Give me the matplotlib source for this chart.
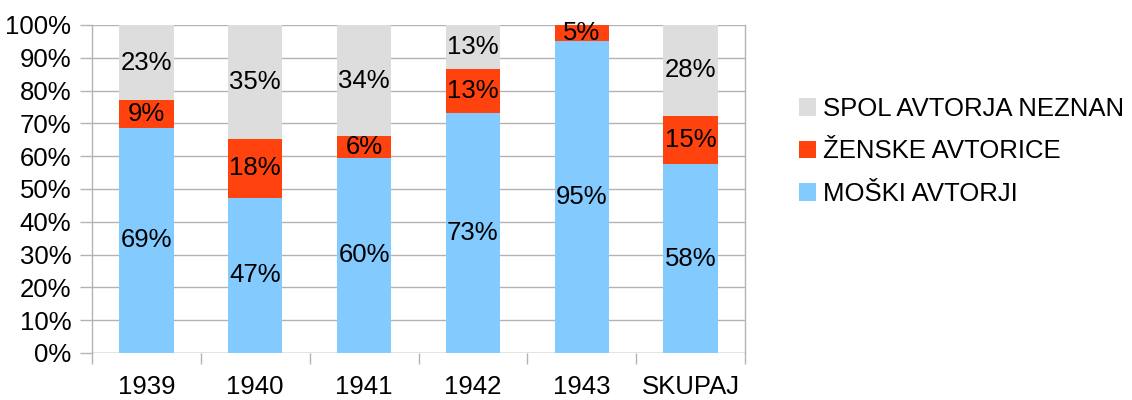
import matplotlib.pyplot as plt
import numpy as np

categories = ["1939", "1940", "1941", "1942", "1943", "SKUPAJ"]
moski = [68.6, 47.3, 59.5, 73.2, 95.1, 57.6]
zenske = [8.5, 17.9, 6.6, 13.4, 4.9, 14.7]
neznan = [22.9, 34.8, 33.9, 13.4, 0.0, 27.7]
moski_lbl = ["69%", "47%", "60%", "73%", "95%", "58%"]
zenske_lbl = ["9%", "18%", "6%", "13%", "5%", "15%"]
neznan_lbl = ["23%", "35%", "34%", "13%", "", "28%"]

plt.rcParams["font.family"] = ["Liberation Sans", "DejaVu Sans"]
FS = 18.5

fig = plt.figure(figsize=(11.32, 4.0), dpi=100)
ax = fig.add_axes([92 / 1132, 1 - 353 / 400, (745 - 92) / 1132, (353 - 25) / 400])

x = np.arange(len(categories))
w = 0.5
b1 = ax.bar(x, moski, w, color="#83caff", label="MOŠKI AVTORJI", zorder=2)
bottom2 = np.array(moski)
b2 = ax.bar(x, zenske, w, bottom=bottom2, color="#ff420e", label="ŽENSKE AVTORICE", zorder=2)
bottom3 = bottom2 + np.array(zenske)
b3 = ax.bar(x, neznan, w, bottom=bottom3, color="#dddddd", label="SPOL AVTORJA NEZNAN", zorder=2)

for bars, labels in ((b1, moski_lbl), (b2, zenske_lbl), (b3, neznan_lbl)):
    ax.bar_label(bars, labels=labels, label_type="center", fontsize=FS, color="black")

ax.set_xlim(-0.5, len(categories) - 0.5)
ax.set_ylim(0, 100)
ax.set_yticks(np.arange(0, 101, 10))
ax.set_yticklabels([f"{v}%" for v in range(0, 101, 10)], fontsize=FS)
ax.set_xticks(x)
ax.set_xticklabels(categories, fontsize=FS)
ax.set_xticks(np.arange(-0.5, len(categories), 1), minor=True)
ax.tick_params(axis="x", which="major", length=0, pad=16)
ax.tick_params(axis="x", which="minor", length=8, color="#b3b3b3", width=1)
ax.tick_params(axis="y", length=9, color="#b3b3b3", width=1, pad=6)
ax.grid(True, axis="y", color="#b3b3b3", linewidth=1, zorder=0)
ax.set_axisbelow(True)
for side in ("top", "bottom"):
    ax.spines[side].set_visible(False)
for side in ("left", "right"):
    ax.spines[side].set_color("#b3b3b3")
    ax.spines[side].set_linewidth(1)
ax.axhline(0, color="#b3b3b3", linewidth=1, zorder=1)

handles = [b3, b2, b1]
fig.legend(handles, [h.get_label() for h in handles], loc="upper left",
           bbox_to_anchor=(799 / 1132, 1 - 97 / 400), frameon=False, fontsize=FS,
           handlelength=0.65, handleheight=0.65, handletextpad=0.3, labelspacing=0.72,
           borderpad=0, borderaxespad=0)

fig.savefig("out.png", dpi=100)
